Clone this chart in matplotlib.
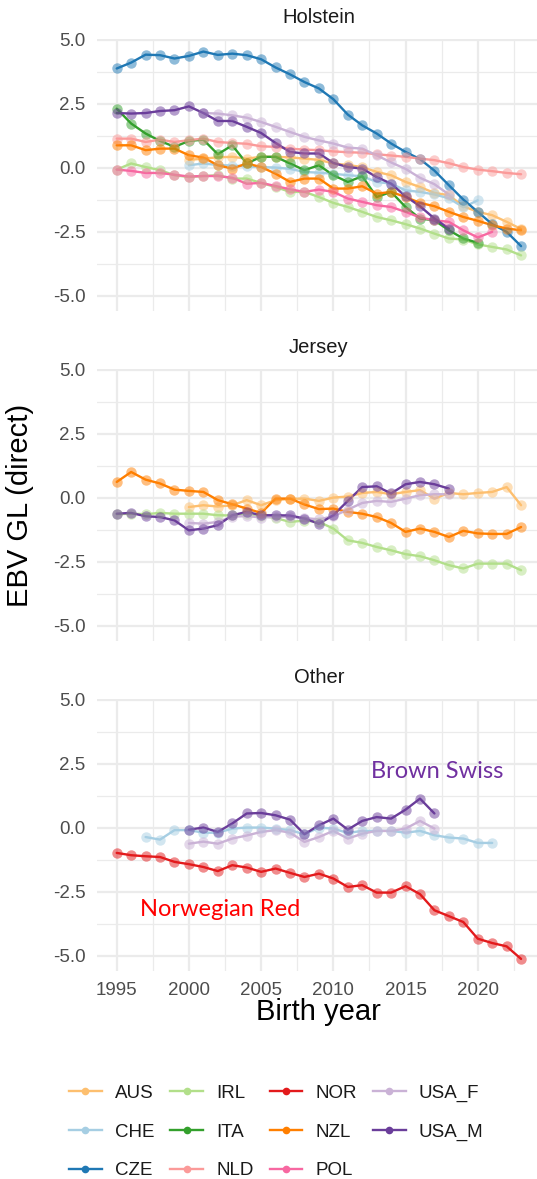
import numpy as np
import matplotlib.pyplot as plt
from matplotlib.lines import Line2D
from matplotlib.ticker import MultipleLocator

plt.rcParams['font.family'] = ['Liberation Sans', 'DejaVu Sans']
plt.rcParams['axes.unicode_minus'] = False

countries = ['AUS', 'CHE', 'CZE', 'IRL', 'ITA', 'NLD', 'NOR', 'NZL', 'POL', 'USA_F', 'USA_M']
colours = ['#fdbf6f', '#a6cee3', '#1f78b4', '#b2df8a', '#33a02c', '#fb9a99',
           '#e31a1c', '#ff7f00', '#f768a1', '#cab2d6', '#6a3d9a']
panels = ['Holstein', 'Jersey', 'Other']

# Holstein (first birth year, values)
hol_aus = (2000, [0.3, 0.35, 0.4, 0.42, 0.35, 0.42, 0.42, 0.4, 0.35, 0.3, 0.16, 0.1, 0.02, -0.17,
                  -0.3, -0.56, -0.76, -0.99, -1.08, -1.51, -1.73, -1.86, -2.12, -2.4])
hol_che = (2000, [0.09, 0.16, 0.1, 0.08, 0.05, 0.02, 0.0, -0.05, -0.17, -0.2, -0.24, -0.3, -0.34,
                  -0.56, -0.63, -0.89, -0.95, -1.05, -1.2, -1.55, -1.28])
hol_cze = (1995, [3.87, 4.10, 4.41, 4.39, 4.26, 4.36, 4.53, 4.40, 4.45, 4.39, 4.23, 3.91, 3.64, 3.34,
                  3.09, 2.67, 2.07, 1.65, 1.33, 0.94, 0.61, 0.33, -0.12, -0.69, -1.25, -1.73, -2.21,
                  -2.51, -3.07])
hol_irl = (1995, [-0.08, 0.16, 0.02, -0.1, -0.3, -0.37, -0.33, -0.3, -0.43, -0.43, -0.6, -0.76, -0.95,
                  -0.95, -1.15, -1.38, -1.54, -1.73, -1.93, -2.06, -2.21, -2.38, -2.58, -2.77, -2.81,
                  -3.0, -3.1, -3.2, -3.43])
hol_ita = (1995, [2.30, 1.72, 1.33, 1.04, 0.81, 1.04, 1.09, 0.52, 0.87, 0.16, 0.42, 0.42, 0.16, -0.1,
                  0.09, -0.3, -0.56, -0.34, -1.15, -0.95, -1.54, -1.99, -2.06, -2.45, -2.77, -2.94])
hol_nld = (1995, [1.13, 1.13, 1.0, 1.09, 1.0, 1.07, 1.13, 1.0, 0.96, 0.93, 0.83, 0.81, 0.74, 0.70,
                  0.68, 0.63, 0.6, 0.58, 0.52, 0.47, 0.42, 0.35, 0.29, 0.17, 0.02, -0.08, -0.14,
                  -0.21, -0.26])
hol_nzl = (1995, [0.87, 0.87, 0.68, 0.74, 0.74, 0.48, 0.39, 0.09, -0.04, 0.16, 0.02, -0.24, -0.56,
                  -0.43, -0.43, -0.82, -0.82, -0.73, -1.02, -0.95, -1.15, -1.38, -1.51, -1.73, -1.93,
                  -2.08, -2.25, -2.38, -2.45])
hol_pol = (1995, [-0.08, -0.13, -0.21, -0.21, -0.28, -0.35, -0.33, -0.33, -0.4, -0.63, -0.6, -0.72,
                  -0.85, -0.95, -0.86, -0.95, -1.21, -1.34, -1.47, -1.54, -1.73, -1.95, -2.06, -2.12,
                  -2.45, -2.73, -2.51])
hol_usa_f = (2001, [2.13, 2.11, 2.04, 1.95, 1.78, 1.59, 1.39, 1.2, 1.06, 0.94, 0.78, 0.74, 0.48, 0.2,
                    -0.05, -0.4, -0.65, -1.05])
hol_usa_m = (1995, [2.13, 2.11, 2.13, 2.21, 2.24, 2.39, 2.13, 1.82, 1.82, 1.59, 1.35, 0.96, 0.61, 0.55,
                    0.55, 0.18, 0.02, -0.04, -0.37, -0.63, -1.12, -1.51, -1.99, -2.38])

# Jersey
jer_aus = (2000, [-0.37, -0.3, -0.35, -0.3, -0.1, -0.3, -0.1, -0.05, -0.04, -0.13, 0.0, 0.04, 0.18,
                  0.22, 0.13, 0.22, 0.29, -0.04, 0.18, 0.13, 0.18, 0.22, 0.41, -0.3])
jer_irl = (1995, [-0.65, -0.63, -0.65, -0.6, -0.63, -0.63, -0.63, -0.69, -0.7, -0.63, -0.72, -0.8,
                  -0.95, -0.9, -0.95, -1.21, -1.67, -1.77, -1.93, -2.06, -2.21, -2.29, -2.45, -2.64,
                  -2.77, -2.58, -2.58, -2.58, -2.84])
jer_nzl = (1995, [0.61, 1.0, 0.7, 0.55, 0.31, 0.26, 0.22, -0.1, -0.26, -0.43, -0.6, -0.04, -0.04,
                  -0.27, -0.45, -0.43, -0.56, -0.63, -0.76, -0.99, -1.34, -1.21, -1.34, -1.54, -1.3,
                  -1.4, -1.42, -1.42, -1.15])
jer_usa_f = (2000, [-0.99, -1.02, -0.95, -0.75, -0.72, -0.78, -0.75, -0.75, -0.8, -0.85, -0.73, -0.47,
                    -0.21, -0.13, -0.17, -0.04, 0.09, 0.13, 0.13])
jer_usa_m = (1995, [-0.63, -0.6, -0.73, -0.76, -0.89, -1.28, -1.21, -1.08, -0.69, -0.56, -0.69, -0.69,
                    -0.7, -0.82, -1.02, -0.69, -0.13, 0.41, 0.44, 0.16, 0.52, 0.61, 0.52, 0.35])

# Other breeds
oth_che = (1997, [-0.37, -0.47, -0.1, -0.1, -0.2, -0.2, -0.04, 0.0, 0.0, -0.04, -0.1, -0.26, 0.0,
                  -0.04, -0.21, -0.13, -0.13, -0.13, -0.2, -0.13, -0.3, -0.39, -0.43, -0.6, -0.6])
oth_nor = (1995, [-0.99, -1.08, -1.12, -1.15, -1.34, -1.43, -1.54, -1.7, -1.47, -1.56, -1.73, -1.6,
                  -1.77, -1.93, -1.8, -1.99, -2.32, -2.25, -2.54, -2.54, -2.29, -2.6, -3.23, -3.46,
                  -3.69, -4.34, -4.51, -4.64, -5.13])
oth_usa_f = (2000, [-0.63, -0.55, -0.63, -0.43, -0.31, -0.17, -0.1, -0.2, -0.56, -0.37, -0.13, -0.43,
                    -0.24, -0.13, -0.13, -0.04, 0.26, -0.04])
oth_usa_m = (2000, [-0.08, 0.0, -0.17, 0.16, 0.55, 0.57, 0.48, 0.31, -0.26, 0.09, 0.35, -0.08, 0.26,
                    0.41, 0.35, 0.7, 1.13, 0.55])

panel_series = [
    {'AUS': hol_aus, 'CHE': hol_che, 'CZE': hol_cze, 'IRL': hol_irl, 'ITA': hol_ita, 'NLD': hol_nld,
     'NZL': hol_nzl, 'POL': hol_pol, 'USA_F': hol_usa_f, 'USA_M': hol_usa_m},
    {'AUS': jer_aus, 'IRL': jer_irl, 'NZL': jer_nzl, 'USA_F': jer_usa_f, 'USA_M': jer_usa_m},
    {'CHE': oth_che, 'NOR': oth_nor, 'USA_F': oth_usa_f, 'USA_M': oth_usa_m},
]

W, H = 537, 1179
fig = plt.figure(figsize=(W / 100, H / 100), dpi=100)


def px_box(left, top, width, height):
    return [left / W, 1 - (top + height) / H, width / W, height / H]


tops = [39.3, 369.3, 699.3]
axes = []
for i, name in enumerate(panels):
    ax = fig.add_axes(px_box(96.5, tops[i], 444.8, 271.9))
    ax.set_xlim(1993.6, 2024.4)
    ax.set_ylim(-5.61, 5.01)
    ax.xaxis.set_major_locator(MultipleLocator(5))
    ax.xaxis.set_minor_locator(MultipleLocator(2.5))
    ax.yaxis.set_major_locator(MultipleLocator(2.5))
    ax.yaxis.set_minor_locator(MultipleLocator(1.25))
    ax.grid(which='major', color='#ebebeb', linewidth=1.6)
    ax.grid(which='minor', color='#ebebeb', linewidth=0.9)
    ax.set_axisbelow(True)
    for s in ax.spines.values():
        s.set_visible(False)
    ax.tick_params(which='both', length=0, labelsize=13.5, labelcolor='#4d4d4d', pad=8)
    ax.set_yticks([-5, -2.5, 0, 2.5, 5])
    ax.set_yticklabels(['-5.0', '-2.5', '0.0', '2.5', '5.0'])
    if i < 2:
        ax.tick_params(axis='x', labelbottom=False)
    ax.text(0.5, 1 + 12 / 271.9, name, transform=ax.transAxes, ha='center', va='bottom',
            fontsize=14.5, color='#1a1a1a')

    series = panel_series[i]
    for c, col in zip(countries, colours):
        if c in series:
            start, vals = series[c]
            yrs = np.arange(start, start + len(vals))
            ax.plot(yrs, vals, color=col, linewidth=1.7, zorder=2, solid_capstyle='round')
    for c, col in zip(countries, colours):
        if c in series:
            start, vals = series[c]
            yrs = np.arange(start, start + len(vals))
            ax.plot(yrs, vals, 'o', color=col, markersize=7.5, alpha=0.5, markeredgewidth=0, zorder=3)
    axes.append(ax)

axes[2].text(2017.2, 2.2, 'Brown Swiss', color='#7030a0', fontsize=17, family='Lato',
             ha='center', va='center')
axes[2].text(2002.15, -3.2, 'Norwegian Red', color='#ff0000', fontsize=17, family='Lato',
             ha='center', va='center')

fig.text(20 / W, 1 - 505 / H, 'EBV GL (direct)', rotation=90, ha='center', va='center', fontsize=21)
fig.text(318.9 / W, 1 - 1012 / H, 'Birth year', ha='center', va='center', fontsize=21)

handles = [Line2D([], [], color=col, linewidth=1.7, marker='o', markersize=5.5,
                  markerfacecolor=col, markeredgewidth=0) for col in colours]
fig.legend(handles, countries, ncol=4, loc='upper left', bbox_to_anchor=(52 / W, 1 - 1068 / H),
           frameon=False, fontsize=13.5, handlelength=1.75, handletextpad=0.7,
           columnspacing=0.85, labelspacing=1.15, labelcolor='#1a1a1a')

fig.savefig('out.png', dpi=100)
